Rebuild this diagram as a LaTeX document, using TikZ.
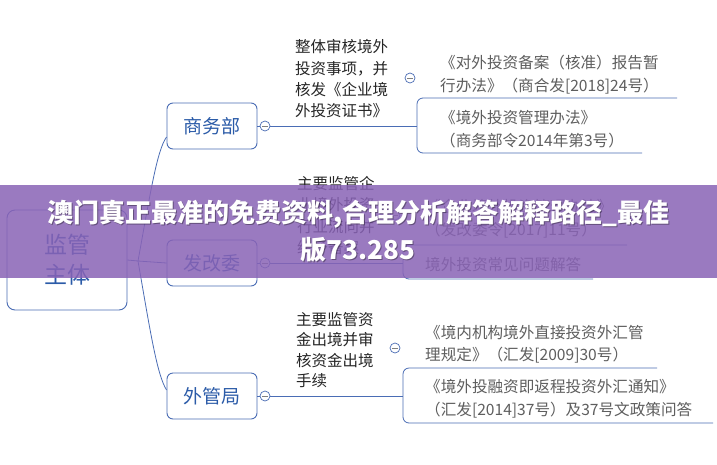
\documentclass[tikz,border=0pt]{standalone}
\usepackage{fontspec}
\setmainfont{Noto Sans CJK SC}
\usetikzlibrary{positioning}

\definecolor{linkblue}{HTML}{4A6DB5}
\definecolor{topicblue}{HTML}{2B5BA8}
\definecolor{notegray}{HTML}{5E5E5E}
\definecolor{dutyblack}{HTML}{262626}
\definecolor{bannerpurple}{RGB}{137,99,182}

\begin{document}
\begin{tikzpicture}[x=1pt, y=-1pt,
    topic/.style={draw=linkblue, line width=0.9pt, rounded corners=6pt, fill=white,
        text=topicblue, minimum width=90pt, minimum height=46pt, inner sep=2pt,
        font=\fontsize{19}{19}\selectfont},
    link/.style={draw=linkblue, line width=0.8pt},
    fold/.style={circle, draw=linkblue, line width=0.7pt, fill=white, inner sep=0pt,
        minimum size=10pt,
        path picture={\draw[gray, line width=0.7pt]
            ([xshift=-2.6pt]path picture bounding box.center) --
            ([xshift=2.6pt]path picture bounding box.center);}},
    duty/.style={anchor=west, align=left, inner sep=0pt, text=dutyblack},
    note/.style={anchor=west, align=left, inner sep=0pt, text=notegray,
        font=\fontsize{15.6}{22.5}\selectfont}]

    \fill[white] (0,0) rectangle (717,464);
    \useasboundingbox (0,0) rectangle (717,464);

    % main topic and its three branches
    \node[topic, minimum width=120pt, minimum height=100pt, rounded corners=8pt,
        font=\fontsize{23}{30}\selectfont, align=left] (root) at (67,260) {监管\\主体};
    \coordinate (hub) at (138,261);

    \node[topic] (sw) at (212,126) {商务部};
    \node[topic] (fg) at (212,263) {发改委};
    \node[topic] (wg) at (212,396) {外管局};

    \draw[link] (root.east) -- (hub);
    \draw[link] (hub) .. controls (150,195) and (157,150) .. ([yshift=-11pt]sw.west);
    \draw[link] (hub) -- (fg.west);
    \draw[link] (hub) .. controls (150,330) and (157,375) .. ([yshift=6pt]wg.west);

    % 商务部
    \node[fold] (swf) at (265,126) {};
    \node[duty, font=\fontsize{15.5}{21.3}\selectfont] (swduty) at (295,79)
        {整体审核境外\\投资事项，并\\核发《企业境\\外投资证书》};
    \node[fold] (swdf) at (410,78) {};
    \node[note] (swa) at (440,74.5) {《对外投资备案（核准）报告暂\\行办法》（商合发[2018]24号）};
    \node[note] (swb) at (440,129) {《境外投资管理办法》\\（商务部令2014年第3号）};
    \coordinate (swbr) at (417,126);
    \coordinate (swtop) at (677,98);
    \coordinate (swbot) at (642,153);
    \draw[link] (sw.east) -- (swf.west);
    \draw[link] (swf.east) -- (swbr);
    \draw[link, rounded corners=6pt] (swtop) -| (swbr) |- (swbot);

    % 发改委
    \node[fold] (fgf) at (265,263) {};
    \node[duty, font=\fontsize{15.5}{21.5}\selectfont] (fgduty) at (297,215.5)
        {主要监管企\\业境外投资\\行业流向并\\给予备案};
    \node[fold] (fgdf) at (395,215) {};
    \node[note] (fga) at (425,218.5) {《企业境外投资管理办法》\\（发改委令[2017]11号）};
    \node[note] (fgb) at (425,265) {境外投资常见问题解答};
    \coordinate (fgbr) at (403,263);
    \coordinate (fgtop) at (627,245);
    \coordinate (fgbot) at (593,279);
    \draw[link] (fg.east) -- (fgf.west);
    \draw[link] (fgf.east) -- (fgbr);
    \draw[link, rounded corners=6pt] (fgtop) -| (fgbr) |- (fgbot);

    % 外管局
    \node[fold] (wgf) at (265,396) {};
    \node[duty, font=\fontsize{15.5}{20.3}\selectfont] (wgduty) at (296,350)
        {主要监管资\\金出境并审\\核资金出境\\手续};
    \node[fold] (wgdf) at (395,348) {};
    \node[note] (wga) at (425,344) {《境内机构境外直接投资外汇管\\理规定》（汇发[2009]30号）};
    \node[note] (wgb) at (425,398.5) {《境外投融资即返程投资外汇通知》\\（汇发[2014]37号）及37号文政策问答};
    \coordinate (wgbr) at (403,396);
    \coordinate (wgtop) at (657,368);
    \coordinate (wgbot) at (713,423);
    \draw[link] (wg.east) -- (wgf.west);
    \draw[link] (wgf.east) -- (wgbr);
    \draw[link, rounded corners=6pt] (wgtop) -| (wgbr) |- (wgbot);

    % banner across the middle
    \fill[bannerpurple, opacity=0.85] (0,185) rectangle (717,278);
    \node[align=center, text=black, opacity=0.35, font=\bfseries\fontsize{26}{37}\selectfont]
        (bannershadow) at (359,232.5) {澳门真正最准的免费资料,合理分析解答解释路径\_最佳\\版73.285};
    \node[align=center, text=white, font=\bfseries\fontsize{26}{37}\selectfont]
        (banner) at (358,231.5) {澳门真正最准的免费资料,合理分析解答解释路径\_最佳\\版73.285};
\end{tikzpicture}
\end{document}
